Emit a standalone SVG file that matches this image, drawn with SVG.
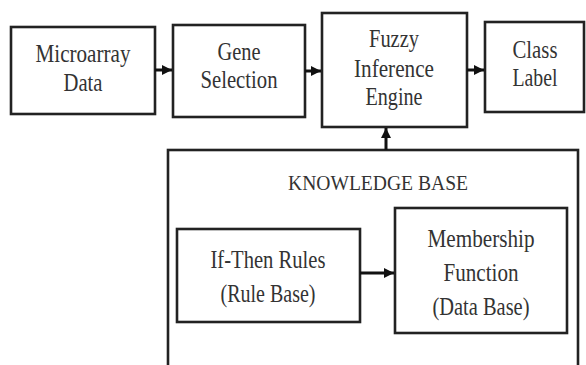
<svg xmlns="http://www.w3.org/2000/svg" width="586" height="365" viewBox="0 0 586 365">
<defs>
<style>
.box{fill:#fff;stroke:#222;stroke-width:2.6}
.t{font-family:"Liberation Serif","DejaVu Serif",serif;font-size:25px;fill:#333;text-anchor:middle}
.kb{font-size:21px}
.c{stroke:#111;stroke-width:3;fill:none}
</style>
<marker id="ah" viewBox="0 0 10 10" refX="10" refY="5" markerWidth="10" markerHeight="10" markerUnits="userSpaceOnUse" orient="auto">
<path d="M0,0 L10,5 L0,10 z" fill="#111"/>
</marker>
</defs>
<rect width="586" height="365" fill="#fff"/>
<g id="knowledge-base">
<rect class="box" x="168" y="150" width="410" height="230"/>
<text class="t kb" x="378" y="190" textLength="180" lengthAdjust="spacingAndGlyphs">KNOWLEDGE BASE</text>
</g>
<g id="microarray">
<rect class="box" x="11" y="27" width="144" height="87"/>
<text class="t" x="83" y="62" textLength="95" lengthAdjust="spacingAndGlyphs">Microarray</text>
<text class="t" x="83" y="91" textLength="39" lengthAdjust="spacingAndGlyphs">Data</text>
</g>
<g id="gene-selection">
<rect class="box" x="173" y="25" width="132" height="92"/>
<text class="t" x="239" y="60" textLength="43" lengthAdjust="spacingAndGlyphs">Gene</text>
<text class="t" x="239" y="88" textLength="77" lengthAdjust="spacingAndGlyphs">Selection</text>
</g>
<g id="fuzzy">
<rect class="box" x="322" y="13" width="145" height="114"/>
<text class="t" x="394" y="47" textLength="50" lengthAdjust="spacingAndGlyphs">Fuzzy</text>
<text class="t" x="394" y="77" textLength="80" lengthAdjust="spacingAndGlyphs">Inference</text>
<text class="t" x="394" y="105" textLength="57" lengthAdjust="spacingAndGlyphs">Engine</text>
</g>
<g id="class-label">
<rect class="box" x="485" y="22" width="99" height="90"/>
<text class="t" x="535" y="58" textLength="45" lengthAdjust="spacingAndGlyphs">Class</text>
<text class="t" x="535" y="86" textLength="45" lengthAdjust="spacingAndGlyphs">Label</text>
</g>
<g id="if-then">
<rect class="box" x="177" y="229" width="183" height="93"/>
<text class="t" x="268" y="268" textLength="115" lengthAdjust="spacingAndGlyphs">If-Then Rules</text>
<text class="t" x="268" y="302" textLength="95" lengthAdjust="spacingAndGlyphs">(Rule Base)</text>
</g>
<g id="membership">
<rect class="box" x="395" y="208" width="172" height="125"/>
<text class="t" x="481" y="247" textLength="107" lengthAdjust="spacingAndGlyphs">Membership</text>
<text class="t" x="481" y="281" textLength="75" lengthAdjust="spacingAndGlyphs">Function</text>
<text class="t" x="481" y="315" textLength="97" lengthAdjust="spacingAndGlyphs">(Data Base)</text>
</g>
<g id="connectors">
<line class="c" x1="155" y1="70" x2="172" y2="70" marker-end="url(#ah)"/>
<line class="c" x1="305" y1="71" x2="321" y2="71" marker-end="url(#ah)"/>
<line class="c" x1="467" y1="70" x2="484" y2="70" marker-end="url(#ah)"/>
<line class="c" x1="386" y1="150" x2="386" y2="128" marker-end="url(#ah)"/>
<line class="c" x1="360" y1="273" x2="394" y2="273" marker-end="url(#ah)"/>
</g>
</svg>
